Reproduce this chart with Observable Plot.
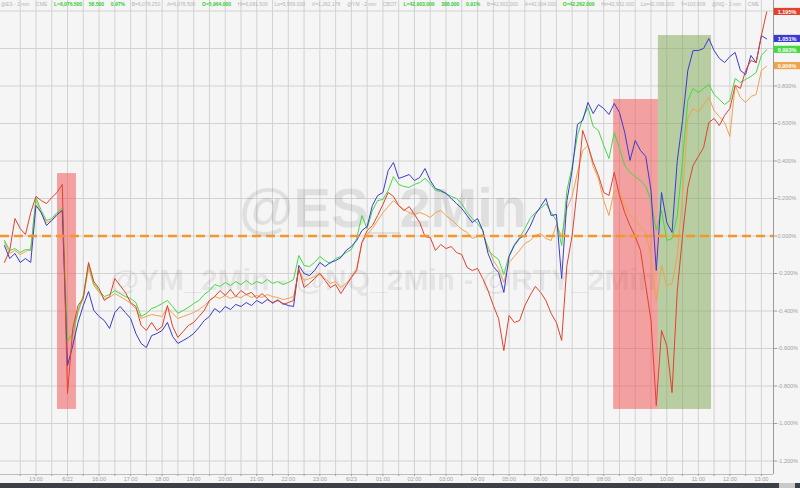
<!DOCTYPE html>
<html><head><meta charset="utf-8">
<script src="https://cdn.jsdelivr.net/npm/d3@7"></script>
<script src="https://cdn.jsdelivr.net/npm/@observablehq/plot@0.6"></script>
<style>
html,body{margin:0;padding:0;background:#f5f5f5;width:800px;height:488px;overflow:hidden;font-family:"Liberation Sans",Arial,sans-serif}
#wrap{position:relative;width:800px;height:488px}
#hdr{position:absolute;left:1px;top:1px;font-size:5px;color:#b4b4b4;white-space:pre;line-height:7px;display:flex;gap:6.7px}
#hdr .g{color:#33cc33;font-weight:bold}
#bar{position:absolute;left:0;top:483px;width:800px;height:5px;background:#3b4046}
#thumb{position:absolute;left:779px;top:483px;width:16px;height:5px;background:#c9c9c9}
</style></head><body><div id="wrap"><div id="chart"></div><div id="hdr"></div><div id="bar"></div><div id="thumb"></div></div>
<script>
// ---- data: 10-minute bars, % change ----
const rty = [-0.141,-0.077,0.093,0.040,0.008,0.125,0.211,0.189,0.173,0.205,
0.232,0.275,-0.840,-0.493,-0.371,-0.333,-0.141,-0.243,-0.280,-0.344,
-0.323,-0.227,-0.264,-0.301,-0.355,-0.376,-0.477,-0.504,-0.461,-0.504,
-0.483,-0.371,-0.483,-0.541,-0.509,-0.477,-0.461,-0.429,-0.397,-0.344,
-0.323,-0.291,-0.317,-0.285,-0.323,-0.291,-0.312,-0.301,-0.333,-0.307,
-0.333,-0.360,-0.339,-0.365,-0.355,-0.344,-0.173,-0.275,-0.253,-0.227,
-0.200,-0.237,-0.275,-0.259,-0.307,-0.264,-0.221,-0.184,-0.035,0.029,
0.056,0.109,0.168,0.232,0.211,0.163,0.136,0.157,0.115,0.072,
-0.003,-0.008,-0.077,-0.045,-0.067,-0.056,-0.088,-0.099,-0.168,-0.184,
-0.173,-0.227,-0.291,-0.371,-0.440,-0.611,-0.424,-0.461,-0.451,-0.371,
-0.317,-0.269,-0.301,-0.344,-0.413,-0.461,-0.557,-0.157,0.003,0.259,
0.563,0.483,0.392,0.323,0.232,0.216,0.339,0.216,0.125,0.056,
-0.003,-0.077,-0.264,-0.451,-0.904,-0.504,-0.584,-0.835,-0.291,0.003,
0.259,0.376,0.424,0.472,0.605,0.627,0.589,0.643,0.680,0.803,
0.787,0.883,0.936,0.925,1.069,1.195];
const nq = [-0.051,-0.120,-0.093,-0.141,-0.120,-0.141,0.163,0.125,0.056,0.083,
0.115,0.136,-0.691,-0.584,-0.461,-0.371,-0.296,-0.397,-0.429,-0.451,
-0.493,-0.408,-0.376,-0.408,-0.440,-0.520,-0.573,-0.595,-0.531,-0.520,
-0.504,-0.461,-0.536,-0.573,-0.557,-0.541,-0.520,-0.488,-0.451,-0.429,
-0.387,-0.408,-0.376,-0.392,-0.365,-0.376,-0.355,-0.371,-0.344,-0.360,
-0.339,-0.355,-0.344,-0.360,-0.371,-0.376,-0.157,-0.200,-0.211,-0.184,
-0.141,-0.163,-0.141,-0.131,-0.115,-0.077,-0.056,-0.024,0.029,0.051,
0.163,0.216,0.232,0.349,0.392,0.307,0.317,0.328,0.296,0.312,
0.360,0.296,0.253,0.243,0.227,0.200,0.173,0.147,0.109,0.072,
0.093,0.029,-0.093,-0.163,-0.195,-0.301,-0.109,-0.051,-0.013,0.003,
0.051,0.115,0.157,0.200,0.109,0.115,-0.227,0.189,0.349,0.595,
0.616,0.712,0.653,0.701,0.680,0.648,0.707,0.659,0.552,0.403,
0.509,0.456,0.424,0.243,-0.184,0.232,0.072,0.019,0.403,0.616,
0.883,0.989,0.989,1.000,1.053,0.989,0.947,0.925,0.957,0.979,
0.883,0.861,0.963,0.925,1.069,1.051];
const es = [-0.024,-0.077,-0.067,-0.088,-0.072,-0.077,0.205,0.136,0.083,0.093,
0.125,0.147,-0.557,-0.520,-0.397,-0.317,-0.147,-0.253,-0.291,-0.323,
-0.312,-0.291,-0.307,-0.323,-0.333,-0.355,-0.429,-0.413,-0.387,-0.376,
-0.360,-0.344,-0.376,-0.413,-0.397,-0.381,-0.360,-0.344,-0.312,-0.291,
-0.259,-0.269,-0.248,-0.264,-0.243,-0.259,-0.237,-0.259,-0.243,-0.253,
-0.232,-0.253,-0.243,-0.259,-0.248,-0.232,-0.104,-0.157,-0.163,-0.141,
-0.109,-0.131,-0.147,-0.120,-0.109,-0.088,-0.072,-0.013,0.109,0.040,
0.136,0.189,0.195,0.243,0.317,0.275,0.264,0.259,0.275,0.285,
0.307,0.280,0.243,0.237,0.227,0.211,0.200,0.173,0.125,0.093,
0.067,0.029,-0.077,-0.104,-0.125,-0.205,-0.104,-0.045,-0.008,0.040,
0.093,0.125,0.147,0.173,0.125,0.083,-0.051,0.243,0.371,0.536,
0.627,0.685,0.584,0.563,0.483,0.413,0.552,0.467,0.376,0.339,
0.317,0.296,0.264,0.189,0.029,0.136,-0.024,-0.013,0.109,0.403,
0.723,0.787,0.765,0.787,0.808,0.755,0.728,0.701,0.723,0.840,
0.819,0.835,0.851,0.872,0.963,0.993];
const ym = [-0.035,-0.093,-0.077,-0.099,-0.083,-0.067,0.189,0.120,0.072,0.083,
0.109,0.136,-0.568,-0.531,-0.408,-0.328,-0.173,-0.264,-0.301,-0.333,
-0.328,-0.307,-0.323,-0.339,-0.360,-0.387,-0.440,-0.429,-0.419,-0.424,
-0.429,-0.381,-0.413,-0.440,-0.429,-0.419,-0.408,-0.392,-0.371,-0.344,
-0.323,-0.333,-0.317,-0.333,-0.323,-0.328,-0.312,-0.328,-0.317,-0.328,
-0.312,-0.323,-0.328,-0.339,-0.333,-0.323,-0.184,-0.237,-0.227,-0.216,
-0.200,-0.227,-0.253,-0.243,-0.275,-0.253,-0.221,-0.173,-0.035,0.008,
0.040,0.083,0.125,0.157,0.189,0.163,0.141,0.125,0.115,0.125,
0.115,0.099,0.125,0.136,0.109,0.088,0.061,0.035,0.019,-0.013,
-0.003,0.008,-0.056,-0.131,-0.173,-0.248,-0.141,-0.109,-0.077,-0.040,
-0.024,0.003,0.013,-0.013,-0.024,0.061,-0.003,0.147,0.211,0.339,
0.456,0.483,0.371,0.307,0.189,0.109,0.243,0.232,0.163,0.109,
0.083,0.051,0.019,-0.104,-0.344,-0.157,-0.264,-0.253,-0.104,0.216,
0.627,0.680,0.659,0.701,0.739,0.669,0.637,0.605,0.531,0.803,
0.739,0.712,0.744,0.755,0.883,0.906];

// x-axis: one label per hour (6 bars), gridlines every half hour (3 bars)
const hourLabels = ["13:00","6/22","16:00","17:00","18:00","19:00","20:00","21:00","22:00","23:00","6/23","01:00",
  "02:00","03:00","04:00","05:00","06:00","07:00","08:00","09:00","10:00","11:00","12:00","13:00"];
const yTickValues = [-1.2,-1.0,-0.8,-0.6,-0.4,-0.2,0,0.2,0.4,0.6,0.8,1.0,1.2];
const yLabelValues = [-1.2,-1.0,-0.8,-0.6,-0.4,-0.2,0,0.2,0.4,0.6,0.8];

// highlighted windows (bar index range, % range)
const boxStart = [10.1, 115.9, 124.4];
const boxEnd = [13.7, 124.4, 134.5];
const boxTop = [0.333, 0.728, 1.069];
const boxBottom = [-0.925, -0.925, -0.925];
const boxKind = ["sell", "sell", "buy"];

// last-value tags
const tagLabels = ["1.195%", "1.051%", "0.993%", "0.906%"];

// header quote strip
const headerParts = ["@ES - 2 min","CME","L=6,076.500","58.500","0.97%","B=6,076.250","A=6,076.500","O=5,964.000",
  "Hi=6,081.500","Lo=5,959.000","V=1,262,178","@YM - 2 min","CBOT","L=42,903.000","388.000","0.91%","B=42,902.000",
  "A=42,904.000","O=42,262.000","Hi=42,932.000","Lo=42,096.000","V=103,909","@NQ - 2 min","CME"];
const headerHighlight = [2,3,4,7,13,14,15,18];

// ---- build ----
const colors = {rty:"#e3412e", nq:"#3b3bcf", es:"#44d944", ym:"#f0a24c"};
const series = [
  {key:"ym", values: ym},
  {key:"es", values: es},
  {key:"nq", values: nq},
  {key:"rty", values: rty}
];
const tagSeries = [rty, nq, es, ym];
const tagKeys = ["rty","nq","es","ym"];
const tags = tagSeries.map((s, k) => ({v: s[s.length - 1], label: tagLabels[k], key: tagKeys[k]}));
const boxes = boxStart.map((s, k) => ({start: s, end: boxEnd[k], top: boxTop[k], bottom: boxBottom[k], kind: boxKind[k]}));

const xDomain = [-0.75, 146.3];
const yDomain = [-1.272, 1.256];
const xGrid = d3.range(3, 145, 3);
const tagWidth = 5.15;

const chart = Plot.plot({
  width: 800, height: 483,
  marginTop: 0, marginLeft: 0, marginRight: 27, marginBottom: 9,
  x: {domain: xDomain},
  y: {domain: yDomain},
  style: {background: "transparent", fontFamily: "'Liberation Sans', Arial, sans-serif", overflow: "visible"},
  marks: [
    Plot.ruleY(yTickValues, {stroke: "#d2d2d2", strokeWidth: 1}),
    Plot.ruleX(xGrid, {stroke: "#d2d2d2", strokeWidth: 1}),
    Plot.text(["@ES_2Min"], {text: d => d, frameAnchor: "middle", dx: -4, dy: -28, fontSize: 56, fontWeight: "bold", fill: "#000", fillOpacity: 0.085}),
    Plot.text(["@YM_2Min - @NQ_2Min - @RTY_2Min"], {text: d => d, frameAnchor: "middle", dx: -4, dy: 43, fontSize: 30, fontWeight: "bold", fill: "#000", fillOpacity: 0.085}),
    Plot.rect(boxes.filter(b => b.kind === "sell"), {x1: "start", x2: "end", y1: "bottom", y2: "top", fill: "#ee5a5a", fillOpacity: 0.55}),
    Plot.rect(boxes.filter(b => b.kind === "buy"), {x1: "start", x2: "end", y1: "bottom", y2: "top", fill: "#85ab5b", fillOpacity: 0.55}),
    ...series.map(s => Plot.line(s.values, {x: (d, i) => i, y: d => d, stroke: colors[s.key], strokeWidth: 1})),
    Plot.ruleY([0], {stroke: "#f5962a", strokeWidth: 2.5, strokeDasharray: "9,5"}),
    Plot.ruleX([xDomain[1]], {stroke: "#9a9a9a"}),
    Plot.ruleY([yDomain[0]], {stroke: "#bdbdbd"}),
    Plot.axisY({anchor: "right", ticks: yLabelValues, tickFormat: d => d.toFixed(3) + "%", tickSize: 3, tickPadding: 1, fontSize: 5.5, color: "#a0a0a0"}),
    Plot.axisX({anchor: "bottom", ticks: xGrid, tickFormat: d => d % 6 === 0 ? hourLabels[d / 6 - 1] : "", tickSize: 2, tickPadding: 1, fontSize: 5.5, color: "#a0a0a0"}),
    ...tags.map(t => Plot.rect([t], {x1: () => xDomain[1] + 0.15, x2: () => xDomain[1] + tagWidth, y1: d => d.v - 0.019, y2: d => d.v + 0.019, fill: colors[t.key]})),
    Plot.text(tags, {frameAnchor: "right", textAnchor: "middle", dx: 13.5, y: "v", text: "label", fill: "white", fontSize: 5.5, fontWeight: "bold"})
  ]
});
document.getElementById("chart").appendChild(chart);

const hdr = document.getElementById("hdr");
headerParts.forEach((p, k) => {
  const s = document.createElement("span");
  s.textContent = p;
  if (headerHighlight.includes(k)) s.className = "g";
  hdr.appendChild(s);
});
</script></body></html>
